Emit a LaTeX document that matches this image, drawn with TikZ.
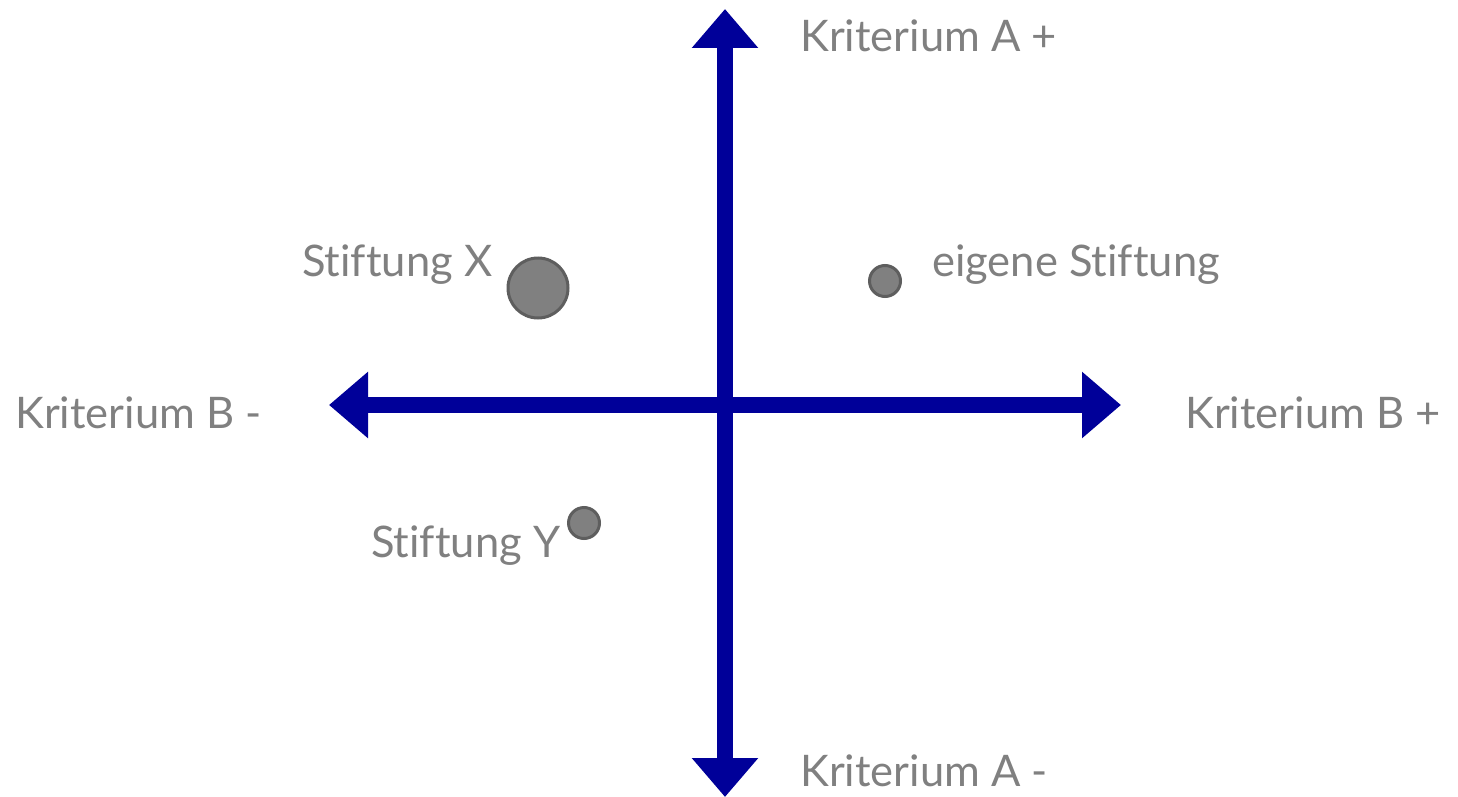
\documentclass[tikz,border=0pt]{standalone}
\usepackage{fontspec}
\setmainfont[Ligatures={NoCommon,NoRare,NoContextual}]{Lato}
\usetikzlibrary{arrows.meta}
\definecolor{axisblue}{HTML}{000099}
\definecolor{labelgray}{HTML}{808080}
\definecolor{dotfill}{HTML}{808080}
\definecolor{dotdraw}{HTML}{5E5E5E}
\begin{document}
\begin{tikzpicture}[x=1pt,y=-1pt,
  axis/.style={draw=axisblue,line width=16pt,-{Triangle[length=39pt,width=64pt]}},
  lbl/.style={anchor=base west,inner sep=0pt,text=labelgray,font=\fontsize{43.5}{50}\selectfont},
  dot/.style={circle,fill=dotfill,draw=dotdraw,line width=3pt,inner sep=0pt}]
\useasboundingbox (0,0) rectangle (1458,797);
\coordinate (c) at (725,405);
\coordinate (top) at (725,9);
\coordinate (bot) at (725,797);
\coordinate (left) at (329,405);
\coordinate (right) at (1121,405);
\draw[axis] (c) -- (top);
\draw[axis] (c) -- (bot);
\draw[axis] (c) -- (left);
\draw[axis] (c) -- (right);
\node[lbl] (aplus) at (800,52) {Kriterium A +};
\node[lbl] (aminus) at (800,786) {Kriterium A -};
\node[lbl] (bminus) at (15,428) {Kriterium B -};
\node[lbl] (bplus) at (1185,428) {Kriterium B +};
\node[dot,minimum size=60pt] (x) at (538,288) {};
\node[dot,minimum size=31pt] (e) at (885,281) {};
\node[dot,minimum size=31pt] (y) at (584,523) {};
\node[lbl] (xl) at (302,276) {Stiftung X};
\node[lbl] (el) at (932,276) {eigene Stiftung};
\node[lbl] (yl) at (371,557) {Stiftung Y};
\end{tikzpicture}
\end{document}
